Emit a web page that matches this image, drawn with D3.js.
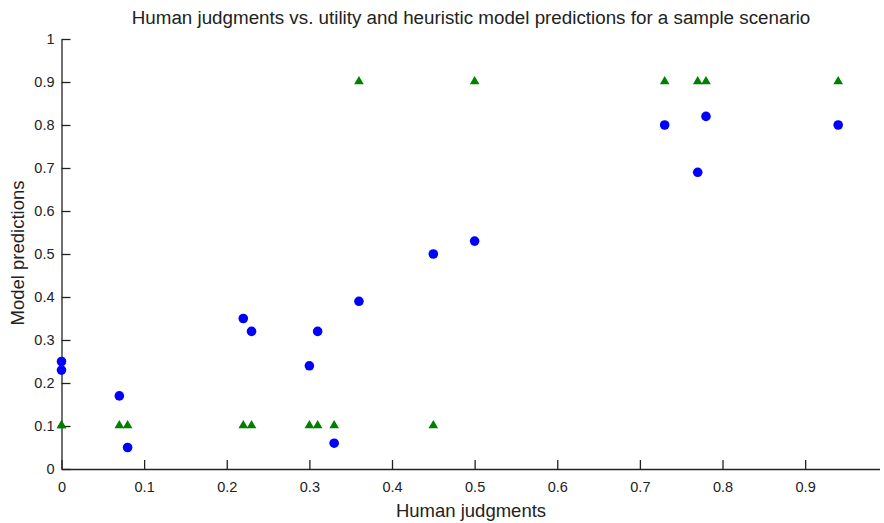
<!DOCTYPE html>
<html>
<head>
<meta charset="utf-8">
<script src="https://cdn.jsdelivr.net/npm/d3@7"></script>
<style>
  body { margin: 0; background: #fff; }
  text { font-family: "Liberation Sans", Arial, sans-serif; fill: #222; }
</style>
</head>
<body>
<svg id="chart" width="884" height="523"></svg>
<script>
var humanJudgments = [0, 0, 0.07, 0.08, 0.22, 0.23, 0.30, 0.31, 0.33, 0.36, 0.45, 0.50, 0.73, 0.77, 0.78, 0.94];
var utilityPreds   = [0.25, 0.23, 0.17, 0.05, 0.35, 0.32, 0.24, 0.32, 0.06, 0.39, 0.50, 0.53, 0.80, 0.69, 0.82, 0.80];
var heuristicPreds = [0.1, 0.1, 0.1, 0.1, 0.1, 0.1, 0.1, 0.1, 0.1, 0.9, 0.1, 0.9, 0.9, 0.9, 0.9, 0.9];
var xTicks = [0, 0.1, 0.2, 0.3, 0.4, 0.5, 0.6, 0.7, 0.8, 0.9];
var yTicks = [0, 0.1, 0.2, 0.3, 0.4, 0.5, 0.6, 0.7, 0.8, 0.9, 1];

var svg = d3.select("svg#chart");

var x = d3.scaleLinear().domain([0, 0.99]).range([61.5, 879.5]);
var y = d3.scaleLinear().domain([0, 1]).range([469, 39]);

var fmt = function(d) { return d === 0 ? "0" : d === 1 ? "1" : d3.format(".1f")(d); };

svg.append("g")
    .attr("transform", "translate(0," + y(0) + ")")
    .call(d3.axisBottom(x).tickValues(xTicks).tickSize(-9).tickSizeOuter(0).tickPadding(13).tickFormat(fmt));

svg.append("g")
    .attr("transform", "translate(" + x(0) + ",0)")
    .call(d3.axisLeft(y).tickValues(yTicks).tickSize(-9).tickSizeOuter(0).tickPadding(7).tickFormat(fmt));

svg.selectAll(".domain, .tick line").attr("stroke", "#222").attr("stroke-width", 1.3);
svg.selectAll(".tick text").attr("font-size", 14.5).attr("font-family", "Liberation Sans, Arial, sans-serif").attr("fill", "#222");

var pts = humanJudgments.map(function(h, i) { return { h: h, u: utilityPreds[i], r: heuristicPreds[i] }; });

svg.append("g").selectAll("circle")
    .data(pts).enter().append("circle")
    .attr("cx", function(d) { return x(d.h); })
    .attr("cy", function(d) { return y(d.u); })
    .attr("r", 4.8)
    .attr("fill", "#0000ff");

var tri = d3.symbol().type(d3.symbolTriangle).size(40);
svg.append("g").selectAll("path")
    .data(pts).enter().append("path")
    .attr("transform", function(d) { return "translate(" + x(d.h) + "," + (y(d.r) - 0.5) + ")"; })
    .attr("d", tri)
    .attr("fill", "#008000");

svg.append("text")
    .attr("x", 471).attr("y", 24)
    .attr("text-anchor", "middle")
    .attr("font-size", 18.8)
    .text("Human judgments vs. utility and heuristic model predictions for a sample scenario");

svg.append("text")
    .attr("x", 471).attr("y", 517)
    .attr("text-anchor", "middle")
    .attr("font-size", 18.5)
    .text("Human judgments");

svg.append("text")
    .attr("transform", "translate(24,253) rotate(-90)")
    .attr("text-anchor", "middle")
    .attr("font-size", 18.5)
    .text("Model predictions");
</script>
</body>
</html>
